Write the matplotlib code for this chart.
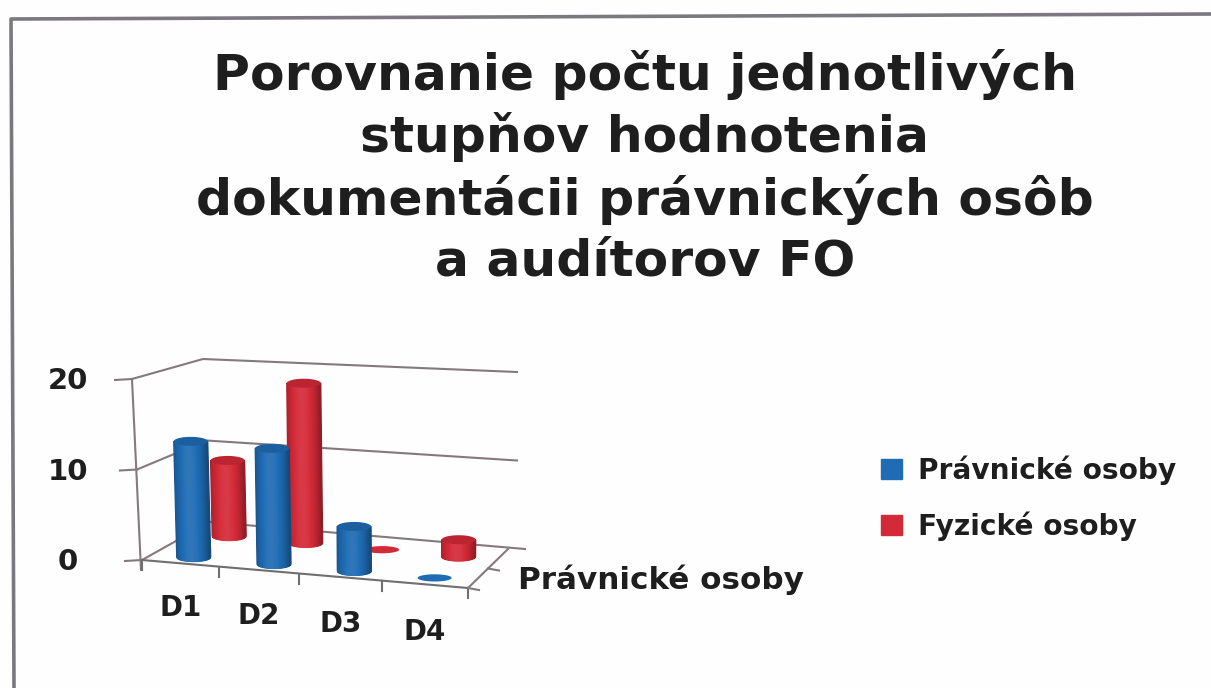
# -*- coding: utf-8 -*-
import numpy as np
import matplotlib
matplotlib.use('Agg')
import matplotlib.pyplot as plt
from matplotlib.patches import Patch

title_lines = ['Porovnanie počtu jednotlivých', 'stupňov hodnotenia',
               'dokumentácii právnických osôb', 'a audítorov FO']
categories = ['D1', 'D2', 'D3', 'D4']
series_names = ['Právnické osoby', 'Fyzické osoby']
pravnicke = [13, 13, 5, 0]
fyzicke = [9, 19, 0, 2]
y_ticks = [0, 10, 20]

blue = '#1f6cb4'
red = '#d42a38'
ink = '#1e1e1e'
wall = '#85787f'

# corners of the drawn floor, in picture pixels
front_l = np.array([142., 560.])
front_r = np.array([468., 588.])
back_l = np.array([210., 522.])
back_r = np.array([508., 549.])
scale_front = 9.05
scale_back = 8.15


def floor(u, d):
    """Point on the floor, u = category position (0-4), d = depth (0-1)"""
    f = front_l + (front_r - front_l) * u / 4.
    b = back_l + (back_r - back_l) * u / 4.
    return f + (b - f) * d


def front_edge(u):
    """Front edge of the floor, divisions get wider towards the viewer"""
    t = u / 4.
    t = t - 0.07 * t * (1 - t)
    return front_l + (front_r - front_l) * t


def lift(d):
    return scale_front + (scale_back - scale_front) * d


def shade(color, k):
    c = np.array(matplotlib.colors.to_rgb(color))
    if k < 0:
        return tuple(c * (1 + k))
    return tuple(c + (1 - c) * k)


def cylinder(ax, u, d, value, color, zorder):
    x0, y0 = floor(u, d)
    h = value * lift(d)
    rx, ry = 17., 4.5
    t = np.linspace(0, 2 * np.pi, 60)
    if h <= 0:
        ax.fill(x0 + rx * np.cos(t), y0 + 0.8 * ry * np.sin(t), color=color,
                lw=0, zorder=zorder)
        return
    # tall bars lean to the left, stronger on the left side of the chart
    lean = h * 0.05 * (1 - x0 / 400.)
    # body as narrow strips so that it looks round
    edges = np.linspace(-1, 1, 41)
    for a, b in zip(edges[:-1], edges[1:]):
        xs = np.linspace(a, b, 3)
        arc = ry * np.sqrt(1 - xs ** 2)
        mid = (a + b) / 2.
        k = 0.07 - 0.34 * mid ** 2 - 0.06 * mid
        ax.fill(np.r_[x0 - lean + rx * xs, x0 + rx * xs[::-1]],
                np.r_[y0 - h + 0 * xs, (y0 + arc)[::-1]],
                color=shade(color, k), lw=0.9, zorder=zorder)
    ax.fill(x0 - lean + rx * np.cos(t), y0 - h + ry * np.sin(t),
            color=shade(color, -0.12), lw=0, zorder=zorder + 0.1)


fig = plt.figure(figsize=(12.11, 6.88), dpi=100, facecolor='#fefefe')
ax = fig.add_axes([0, 0, 1, 1])
ax.set_xlim(0, 1211)
ax.set_ylim(688, 0)
ax.axis('off')

# scan border
ax.plot([14, 11, 1211], [688, 19, 14], color='#7b797f', lw=2.6)

for i, line in enumerate(title_lines):
    ax.text(645, 75 + i * 62.3, line, ha='center', va='center', fontsize=36.3,
            fontweight='bold', color=ink)

# walls, gridlines and ticks
for v in y_ticks:
    fy = front_l[1] - v * scale_front
    by = back_l[1] - v * scale_back
    ry = back_r[1] - v * 8.85
    fx = front_l[0] - 10 * v / 20.
    bx = back_l[0] - 7 * v / 20.
    if v:
        ax.plot([fx, bx, back_r[0] + 9], [fy, by, ry], color=wall, lw=1.5, zorder=1)
    else:
        ax.plot([bx, back_r[0] + 17], [by, back_r[1]], color=wall, lw=1.5, zorder=1)
    ax.plot([fx - 17, fx], [fy + 1, fy], color=wall, lw=1.5, zorder=1)
    ax.text(68, fy + 2, str(v), ha='center', va='center', fontsize=21,
            fontweight='bold', color=ink)
ax.plot([front_l[0] - 10, front_l[0] - 1], [front_l[1] - 20 * scale_front, front_l[1] + 10],
        color=wall, lw=1.5, zorder=1)
ax.plot(*zip(front_l, back_l), color=wall, lw=1.5, zorder=1)
ax.plot(*zip(front_l, front_r), color='#6f6f6f', lw=1.5, zorder=1)
ax.plot(*zip(front_r, back_r), color=wall, lw=1.5, zorder=1)
for i in range(5):
    x, y = front_edge(i)
    ax.plot([x, x], [y, y + 10], color='#6f6f6f', lw=1.5, zorder=1)
for d in (0, 0.5):
    x, y = floor(4, d)
    ax.plot([x, x + 11], [y, y + 2], color=wall, lw=1.5, zorder=1)

# cylinders, back row first
for i, v in enumerate(fyzicke):
    cylinder(ax, i + 0.5, 0.72, v, red, 2 + i)
for i, v in enumerate(pravnicke):
    cylinder(ax, i + 0.5, 0.17, v, blue, 3 + i)

for i, name in enumerate(categories):
    x, y = front_edge(i + 0.5)
    ax.text(x, y + 45 + 1.0 * i, name, ha='center', va='center', fontsize=20,
            fontweight='bold', color=ink)
ax.text(518, 580, series_names[0], ha='left', va='center', fontsize=22.3,
        fontweight='bold', color=ink)

handles = [Patch(color=blue), Patch(color=red)]
ax.legend(handles, series_names, loc='upper left',
          bbox_to_anchor=(856, 430), bbox_transform=ax.transData, frameon=False,
          prop={'size': 20.2, 'weight': 'bold'}, labelcolor=ink, handlelength=0.75,
          handleheight=0.7, handletextpad=0.55, labelspacing=0.95)

fig.savefig('out.png', dpi=100, facecolor=fig.get_facecolor())
